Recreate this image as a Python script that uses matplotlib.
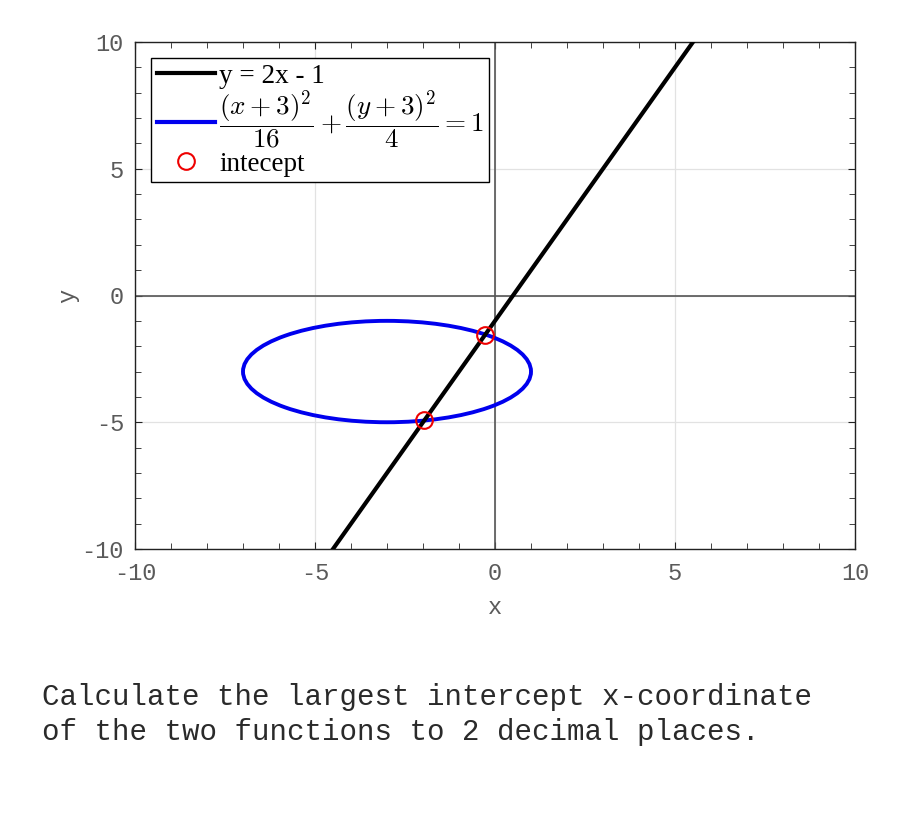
import matplotlib
matplotlib.use("Agg")
import matplotlib.pyplot as plt
from matplotlib.patches import Ellipse
from matplotlib.lines import Line2D
from matplotlib.ticker import MultipleLocator

# ---- data ----
line_x = [-4.5, 5.5]
line_y = [-10.0, 10.0]
ellipse_center = (-3.0, -3.0)
ellipse_semi_axes = (4.0, 2.0)
intercept_x = [-0.27, -1.97]
intercept_y = [-1.54, -4.93]
x_ticks = [-10, -5, 0, 5, 10]
y_ticks = [-10, -5, 0, 5, 10]
labels = ["y = 2x - 1",
          r"$\dfrac{(x+3)^2}{16}+\dfrac{(y+3)^2}{4}=1$",
          "intecept"]
question = ("Calculate the largest intercept x-coordinate\n"
            "of the two functions to 2 decimal places.")

plt.rcParams['mathtext.fontset'] = 'cm'
plt.rcParams['axes.unicode_minus'] = False

fig = plt.figure(figsize=(9, 8.25), dpi=100)
ax = fig.add_axes([0.15, 1 - 549 / 825, 0.80, (549 - 42) / 825])

ax.set_xlim(-10, 10)
ax.set_ylim(-10, 10)
ax.set_xticks(x_ticks)
ax.set_yticks(y_ticks)
ax.xaxis.set_minor_locator(MultipleLocator(1))
ax.yaxis.set_minor_locator(MultipleLocator(1))
ax.grid(True, which='major', color='#e2e2e2', linewidth=0.9)
ax.set_axisbelow(True)
ax.axhline(0, color='#555555', linewidth=1.2, zorder=1)
ax.axvline(0, color='#555555', linewidth=1.2, zorder=1)

ax.tick_params(which='both', direction='in', top=True, right=True,
               colors='#222222', labelcolor='#5a5a5a')
ax.tick_params(which='major', length=5, labelsize=17)
ax.tick_params(axis='x', which='major', pad=9)
ax.tick_params(axis='y', which='major', pad=8)
ax.tick_params(which='minor', length=4)
for lab in ax.get_xticklabels() + ax.get_yticklabels():
    lab.set_family('Liberation Mono')
for s in ax.spines.values():
    s.set_linewidth(1.0)
    s.set_color('#222222')

ax.set_xlabel('x', family='Liberation Mono', fontsize=17, color='#5a5a5a', labelpad=8)
ax.set_ylabel('y', family='Liberation Mono', fontsize=17, color='#5a5a5a', labelpad=2)

ax.plot(line_x, line_y, color='black', linewidth=3.0, zorder=3)
ell = Ellipse(ellipse_center, 2 * ellipse_semi_axes[0], 2 * ellipse_semi_axes[1],
              fill=False, edgecolor='#0000ee', linewidth=2.8, zorder=2)
ax.add_patch(ell)
ax.plot(intercept_x, intercept_y, 'o', markersize=12, markerfacecolor='none',
        markeredgecolor='#ee0000', markeredgewidth=1.5, zorder=4)

handles = [Line2D([], [], color='black', linewidth=3),
           Line2D([], [], color='#0000ee', linewidth=3),
           Line2D([], [], linestyle='none', marker='o', markersize=12,
                  markerfacecolor='none', markeredgecolor='#ee0000',
                  markeredgewidth=1.5)]
leg = ax.legend(handles, labels, loc='upper left', bbox_to_anchor=(0, 1),
                prop={'family': 'Liberation Serif', 'size': 19.5},
                frameon=True, fancybox=False, framealpha=1, edgecolor='black',
                borderaxespad=0.6, borderpad=0.2, handletextpad=0.15,
                labelspacing=0.0, handlelength=2.15)
leg.get_frame().set_linewidth(1.0)

fig.text(42 / 900, 1 - 683 / 825, question, family='Liberation Mono',
         fontsize=21, color='#2a2a2a', va='top', ha='left', linespacing=1.32)

fig.savefig('out.png', dpi=100)
